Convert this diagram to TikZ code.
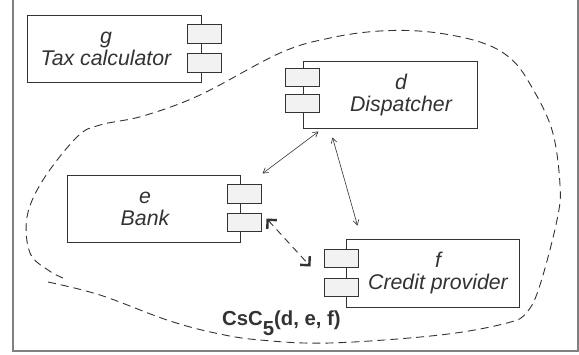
\documentclass[tikz,border=0pt]{standalone}
\usepackage{fontspec}
\setmainfont{Liberation Sans}
\usetikzlibrary{arrows.meta,calc}
\definecolor{ink}{HTML}{333333}
\definecolor{portfill}{HTML}{F2F2F2}
\definecolor{framegray}{HTML}{808080}
\begin{document}
\begin{tikzpicture}[x=1pt,y=-1pt,
  comp/.style={draw=ink, line width=1pt, fill=white, inner sep=0pt, rectangle},
  port/.style={draw=ink, line width=1pt, fill=portfill, minimum width=34pt, minimum height=18.5pt, inner sep=0pt},
  lbl/.style={font=\fontsize{21.3}{22}\selectfont\itshape, text=ink, align=center, inner sep=0pt},
  conn/.style={line width=0.6pt, draw=ink, {Straight Barb[angle'=60,length=5pt]}-{Straight Barb[angle'=60,length=5pt]}},
  dconn/.style={line width=0.9pt, draw=ink, dash pattern=on 7pt off 5pt,
     {Straight Barb[angle'=90,length=6.5pt,line width=2.4pt]}-{Straight Barb[angle'=90,length=6.5pt,line width=2.4pt]}},
  fringe/.style={draw=ink, line width=0.9pt, dash pattern=on 8pt off 5pt}]
\useasboundingbox (0,0) rectangle (579,354);
% frame
\draw[framegray, line width=2pt] (12.5,0) -- (12.5,351) -- (577.5,351) -- (577.5,0);
% fringe
\draw[fringe] plot[smooth, tension=0.6] coordinates {
 (48,282) (100,295) (167,320) (215,333) (260,340) (330,343) (440,335) (507,323)
 (527,312) (540,285) (557,220) (560,185) (552,130) (530,84) (510,58) (480,42)
 (430,32) (380,31) (330,38) (280,53) (200,95) (143,116) (100,125) (77,137)
 (43,180) (27,217) (30,253) (48,270) (63,278)};
% component g
\node[comp, minimum width=174pt, minimum height=67pt] (g) at (114,48.5) {};
\node[port] (gp1) at (204,34) {};
\node[port] (gp2) at (204,63) {};
\node[lbl] (gt) at (106,48.5) {g\\Tax calculator};
% component d
\node[comp, minimum width=174pt, minimum height=67pt] (d) at (390,94.5) {};
\node[port] (dp1) at (302,77.5) {};
\node[port] (dp2) at (302,103.5) {};
\node[lbl] (dt) at (401,95) {d\\Dispatcher};
% component e
\node[comp, minimum width=173pt, minimum height=67pt] (e) at (153.5,208.5) {};
\node[port] (ep1) at (244,194) {};
\node[port] (ep2) at (244,222.5) {};
\node[lbl] (et) at (145,208.5) {e\\Bank};
% component f
\node[comp, minimum width=173pt, minimum height=68pt] (f) at (432.5,273) {};
\node[port] (fp1) at (341,258.5) {};
\node[port] (fp2) at (341,287.5) {};
\node[lbl] (ft) at (438,273) {f\\Credit provider};
% connectors
\draw[conn] ($(d.south west)+(16,3)$) -- ($(e.north east)+(22,-1)$);
\draw[conn] ($(d.south west)+(30,9)$) -- ($(f.north west)+(12,-13)$);
\draw[dconn] ($(ep2.east)+(5,-4)$) -- ($(fp1.west)+(-13,8)$);
% label
\node[anchor=base west, inner sep=0pt, text=ink, font=\fontsize{20.3}{22}\selectfont\bfseries] (cs) at (222,325) {CsC\raisebox{-10pt}{5}(d, e, f)};
\end{tikzpicture}
\end{document}
